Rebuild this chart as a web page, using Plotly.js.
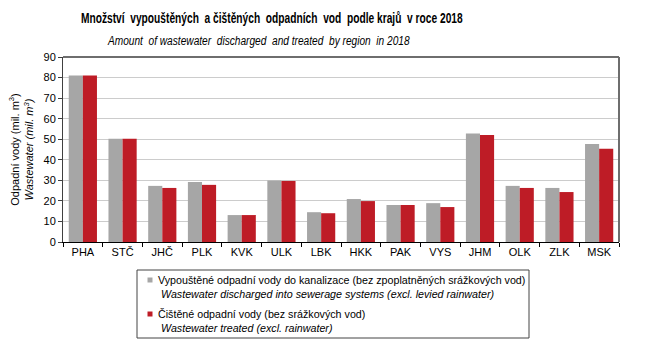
<!DOCTYPE html>
<html><head><meta charset="utf-8">
<script src="https://cdn.plot.ly/plotly-3.0.1.min.js"></script>
<style>body{margin:0;background:#fff}#c{width:649px;height:363px}</style>
</head><body><div id="c"></div>
<script>
const categories = ['PHA','STČ','JHČ','PLK','KVK','ULK','LBK','HKK','PAK','VYS','JHM','OLK','ZLK','MSK'];
const discharged = [81.0, 50.2, 27.3, 29.2, 13.1, 29.9, 14.5, 20.9, 18.0, 18.9, 52.8, 27.3, 26.3, 47.7];
const treated    = [81.0, 50.2, 26.3, 27.8, 13.1, 29.7, 14.0, 19.9, 18.0, 17.0, 52.1, 26.3, 24.3, 45.4];
const yTicks = [0,10,20,30,40,50,60,70,80,90];
const name1 = 'Vypouštěné odpadní vody do kanalizace (bez zpoplatněných srážkových vod)';
const name1en = 'Wastewater discharged into sewerage systems (excl. levied rainwater)';
const name2 = 'Čištěné odpadní vody (bez srážkových vod)';
const name2en = 'Wastewater treated (excl. rainwater)';

const F = 'Liberation Sans, Arial, sans-serif';
const W = 649, H = 363, ML = 63, MR = 30, MT = 57, MB = 121;
const PW = W-ML-MR, PH = H-MT-MB;
const px = (x)=>(x-ML)/PW, py = (y)=>(H-MB-y)/PH;

const data = [
  {type:'bar', x:categories, y:discharged, name:name1, marker:{color:'#a6a6a6'}},
  {type:'bar', x:categories, y:treated, name:name2, marker:{color:'#be1c26'}}
];
const layout = {
  width:W, height:H, showlegend:false,
  margin:{l:ML, r:MR, t:MT, b:MB, pad:0},
  paper_bgcolor:'#fff', plot_bgcolor:'#fff',
  font:{family:F, size:11, color:'#000'},
  barmode:'group', bargap:0.29, bargroupgap:0,
  xaxis:{type:'category', showline:true, linecolor:'#000', linewidth:1,
    ticks:'outside', tickson:'boundaries', ticklen:4, tickcolor:'#000',
    tickfont:{family:F, size:11}, showgrid:false, zeroline:false},
  yaxis:{range:[0,90], tickvals:yTicks, showline:true, linecolor:'#404040', linewidth:1,
    ticks:'outside', ticklen:4, tickcolor:'#404040', gridcolor:'#cccccc', gridwidth:1,
    zeroline:false, tickfont:{family:F, size:11},
    title:{text:'Odpadní vody (mil. m<sup>3</sup>)<br><i>Wastewater (mil. m<sup>3</sup>)</i>', font:{family:F, size:11}, standoff:7}},
  shapes:[
    {type:'line', xref:'paper', yref:'paper', x0:0, x1:1, y0:1, y1:1, line:{color:'#6e6e6e', width:2}},
    {type:'line', xref:'paper', yref:'paper', x0:1, x1:1, y0:0, y1:1, line:{color:'#6e6e6e', width:2}},
    {type:'rect', xref:'paper', yref:'paper', x0:px(137), x1:px(529), y0:py(270), y1:py(338), line:{color:'#444', width:1}, fillcolor:'rgba(0,0,0,0)'},
    {type:'rect', xref:'paper', yref:'paper', x0:px(147.5), x1:px(152.5), y0:py(277.5), y1:py(282.5), line:{width:0}, fillcolor:'#a6a6a6'},
    {type:'rect', xref:'paper', yref:'paper', x0:px(147.5), x1:px(152.5), y0:py(311.5), y1:py(316.5), line:{width:0}, fillcolor:'#be1c26'}
  ],
  annotations:[
    {xref:'paper', yref:'paper', x:px(272), y:py(18), text:'<b>Množství  vypouštěných  a čištěných  odpadních  vod  podle krajů  v roce 2018</b>', showarrow:false, font:{family:F, size:14}, xanchor:'center', yanchor:'middle'},
    {xref:'paper', yref:'paper', x:px(258), y:py(41), text:'<i>Amount  of wastewater  discharged  and treated  by region  in 2018</i>', showarrow:false, font:{family:F, size:12.5}, xanchor:'center', yanchor:'middle'},
    {xref:'paper', yref:'paper', x:px(156), y:py(280), text:name1, showarrow:false, font:{family:F, size:10.7}, xanchor:'left', yanchor:'middle'},
    {xref:'paper', yref:'paper', x:px(159), y:py(294), text:'<i>'+name1en+'</i>', showarrow:false, font:{family:F, size:10.7}, xanchor:'left', yanchor:'middle'},
    {xref:'paper', yref:'paper', x:px(156), y:py(314), text:name2, showarrow:false, font:{family:F, size:10.7}, xanchor:'left', yanchor:'middle'},
    {xref:'paper', yref:'paper', x:px(159), y:py(328), text:'<i>'+name2en+'</i>', showarrow:false, font:{family:F, size:10.7}, xanchor:'left', yanchor:'middle'}
  ]
};
// target widths of the condensed title lines in the reference
const titleTargets = {0: 382, 1: 303};
Plotly.newPlot('c', data, layout, {displayModeBar:false, staticPlot:true}).then(function(gd){
  Object.keys(titleTargets).forEach(function(i){
    const t = gd.querySelector('g.annotation[data-index="'+i+'"] text.annotation-text');
    if(!t) return;
    const bb = t.getBBox();
    const s = Math.min(1, titleTargets[i]/bb.width);
    const cx = bb.x + bb.width/2;
    t.setAttribute('transform', 'translate('+cx+',0) scale('+s+',1) translate('+(-cx)+',0)');
  });
});
</script></body></html>
